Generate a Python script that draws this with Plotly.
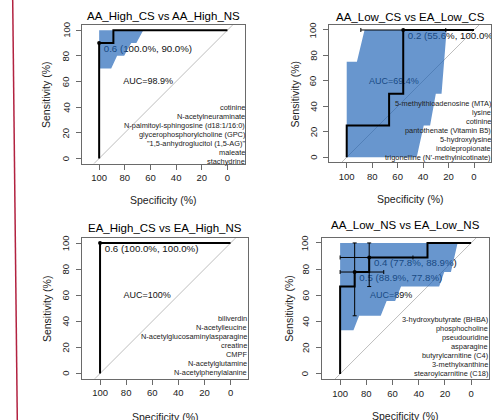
import plotly.graph_objects as go

FONT = "Liberation Sans, Arial, Helvetica, sans-serif"
W, H = 498, 420

# ---------------- data ----------------
titles = ["AA_High_CS vs AA_High_NS", "AA_Low_CS vs EA_Low_CS",
          "EA_High_CS vs EA_High_NS", "AA_Low_NS vs EA_Low_NS"]
x_ticks = [100, 80, 60, 40, 20, 0]
y_ticks = [0, 20, 40, 60, 80, 100]
x_title = "Specificity (%)"
y_title = "Sensitivity (%)"

# ROC step curves (specificity %, sensitivity %)
roc1_spec = [100, 100, 88.9, 88.9, 0]
roc1_sens = [0, 90, 90, 100, 100]
roc2_spec = [100, 100, 66.7, 66.7, 55.6, 55.6, 0]
roc2_sens = [0, 25, 25, 50, 50, 100, 100]
roc3_spec = [100, 100, 0]
roc3_sens = [0, 100, 100]
roc4_spec = [100, 100, 88.9, 88.9, 77.8, 77.8, 33.3, 33.3, 0]
roc4_sens = [0, 66.7, 66.7, 77.8, 77.8, 88.9, 88.9, 100, 100]

# Sensitivity confidence shape outlines
ci1_spec = [100, 65.6, 71, 75, 80.5, 86, 90.6, 100]
ci1_sens = [100, 100, 90, 90, 80, 80, 70, 70]
ci2_spec = [100, 100, 92, 86, 21.5, 25.5, 30, 34.5, 39.5, 45]
ci2_sens = [0, 75, 75, 100, 100, 50, 50, 25, 25, 0]
ci3_spec = []
ci3_sens = []
ci4_spec = [100, 10.3, 15.4, 20.5, 24.4, 53.5, 58, 64.5, 69, 85.5, 89.8, 100]
ci4_sens = [100, 100, 77.8, 77.8, 66.7, 66.7, 55.6, 55.6, 44.4, 44.4, 33.3, 33.3]

# Best thresholds
thr1_spec, thr1_sens, thr1_lab = [100], [90], ["0.6 (100.0%, 90.0%)"]
thr2_spec, thr2_sens, thr2_lab = [55.6], [100], ["0.2 (55.6%, 100.0%)"]
thr3_spec, thr3_sens, thr3_lab = [100], [100], ["0.6 (100.0%, 100.0%)"]
thr4_spec, thr4_sens = [77.8, 88.9], [88.9, 77.8]
thr4_lab = ["0.4 (77.8%, 88.9%)", "0.5 (88.9%, 77.8%)"]
# threshold confidence intervals
thr2_spec_lo, thr2_spec_hi = [22.2], [88.9]
thr4_spec_lo, thr4_spec_hi = [44.4, 66.7], [100, 100]
thr4_sens_lo, thr4_sens_hi = [66.7, 44.4], [100, 100]

auc_labels = ["AUC=98.9%", "AUC=69.4%", "AUC=100%", "AUC=89%"]

metabolites1 = ["cotinine", "N-acetylneuraminate", "N-palmitoyl-sphingosine (d18:1/16:0)",
                "glycerophosphorylcholine (GPC)", "\"1,5-anhydroglucitol (1,5-AG)\"",
                "maleate", "stachydrine"]
metabolites2 = ["5-methylthioadenosine (MTA)", "lysine", "cotinine",
                "pantothenate (Vitamin B5)", "5-hydroxylysine", "indolepropionate",
                "trigonelline (N\u2019-methylnicotinate)"]
metabolites3 = ["biliverdin", "N-acetylleucine", "N-acetylglucosaminylasparagine",
                "creatine", "CMPF", "N-acetylglutamine", "N-acetylphenylalanine"]
metabolites4 = ["3-hydroxybutyrate (BHBA)", "phosphocholine", "pseudouridine",
                "asparagine", "butyrylcarnitine (C4)", "3-methylxanthine",
                "stearoylcarnitine (C18)"]

# ---------------- layout geometry (pixels) ----------------
# (left, top, px per unit) of each panel box
geom = [(81.7, 25.0, 1.283), (329.4, 24.9, 1.273), (82.3, 237.8, 1.305), (322.3, 237.7, 1.31)]
XR = [113.6, -13.6]
YR = [-4, 104]
title_y = [16, 17, 228, 225]
xtitle_y = [200, 199, 416.5, 416]
ytitle_dx = [35, 34.5, 35.5, 33]
ytick_dx = [16, 16, 17, 17]
auc_pos = [(81.3, 59.5), (82.5, 59.4), (82.1, 59.4), (77.2, 59.5)]
leg_top_px = [107, 103.3, 318.3, 319.3]
leg_right_px = [245, 490.7, 246.7, 488.3]
leg_step_px = 9.0
thr_dx, thr_dy = -3.6, -4.8

FILL = "rgba(28,97,182,0.667)"
FRAME = "#6a6a6a"

panels = [
    dict(roc=(roc1_spec, roc1_sens), ci=(ci1_spec, ci1_sens),
         thr=(thr1_spec, thr1_sens, thr1_lab), err=None, labels=metabolites1),
    dict(roc=(roc2_spec, roc2_sens), ci=(ci2_spec, ci2_sens),
         thr=(thr2_spec, thr2_sens, thr2_lab),
         err=(thr2_spec_lo, thr2_spec_hi, None, None), labels=metabolites2),
    dict(roc=(roc3_spec, roc3_sens), ci=(ci3_spec, ci3_sens),
         thr=(thr3_spec, thr3_sens, thr3_lab), err=None, labels=metabolites3),
    dict(roc=(roc4_spec, roc4_sens), ci=(ci4_spec, ci4_sens),
         thr=(thr4_spec, thr4_sens, thr4_lab),
         err=(thr4_spec_lo, thr4_spec_hi, thr4_sens_lo, thr4_sens_hi), labels=metabolites4),
]

fig = go.Figure()
annotations = []
layout_axes = {}

for i, p in enumerate(panels):
    n = "" if i == 0 else str(i + 1)
    xa, ya = "x" + n, "y" + n
    L, T, s = geom[i]
    bw = (XR[0] - XR[1]) * s
    bh = (YR[1] - YR[0]) * s
    dom_x = [L / W, (L + bw) / W]
    dom_y = [1 - (T + bh) / H, 1 - T / H]

    # diagonal reference
    fig.add_trace(go.Scatter(x=[130, -30], y=[-30, 130], mode="lines",
                             line=dict(color="#bdbdbd", width=1), xaxis=xa, yaxis=ya,
                             hoverinfo="skip"))
    # AUC text (under the shape)
    fig.add_trace(go.Scatter(x=[auc_pos[i][0]], y=[auc_pos[i][1]], mode="text",
                             text=[auc_labels[i]], textposition="middle right",
                             textfont=dict(family=FONT, size=9, color="#111"),
                             xaxis=xa, yaxis=ya, hoverinfo="skip"))
    # threshold labels (under the shape)
    ts, tn, tl = p["thr"]
    fig.add_trace(go.Scatter(x=[v + thr_dx for v in ts], y=[v + thr_dy for v in tn],
                             mode="text", text=tl, textposition="middle right",
                             textfont=dict(family=FONT, size=9.7, color="#111"),
                             xaxis=xa, yaxis=ya, hoverinfo="skip"))
    # CI shape
    cs, cn = p["ci"]
    if cs:
        fig.add_trace(go.Scatter(x=cs + [cs[0]], y=cn + [cn[0]], mode="lines",
                                 fill="toself", fillcolor=FILL,
                                 line=dict(width=0, color="rgba(0,0,0,0)"),
                                 xaxis=xa, yaxis=ya, hoverinfo="skip"))
    # ROC curve
    rs, rn = p["roc"]
    fig.add_trace(go.Scatter(x=rs, y=rn, mode="lines",
                             line=dict(color="black", width=2, shape="linear"),
                             xaxis=xa, yaxis=ya, hoverinfo="skip"))
    # threshold points with CI bars
    kw = {}
    if p["err"] is not None:
        slo, shi, nlo, nhi = p["err"]
        kw["error_x"] = dict(type="data", symmetric=False,
                             array=[h - v for h, v in zip(shi, ts)],
                             arrayminus=[v - l for l, v in zip(slo, ts)],
                             color="black", thickness=1, width=2)
        if nlo is not None:
            kw["error_y"] = dict(type="data", symmetric=False,
                                 array=[h - v for h, v in zip(nhi, tn)],
                                 arrayminus=[v - l for l, v in zip(nlo, tn)],
                                 color="black", thickness=1, width=2)
    fig.add_trace(go.Scatter(x=ts, y=tn, mode="markers",
                             marker=dict(color="black", size=4),
                             xaxis=xa, yaxis=ya, hoverinfo="skip", **kw))

    axcommon = dict(showgrid=False, zeroline=False, showline=True, mirror=True,
                    automargin=False, fixedrange=True,
                    linecolor=FRAME, linewidth=1, ticks="outside", ticklen=5,
                    tickcolor=FRAME, tickwidth=1,
                    tickfont=dict(family=FONT, size=9.5, color="#222"))
    layout_axes["xaxis" + n] = dict(axcommon, domain=dom_x, range=XR, tickmode="array",
                                    tickvals=x_ticks, ticktext=[str(t) for t in x_ticks],
                                    anchor=ya)
    layout_axes["yaxis" + n] = dict(axcommon, domain=dom_y, range=YR, tickmode="array",
                                    tickvals=y_ticks, showticklabels=False, anchor=xa)
    # rotated y tick labels (R style, reading upwards)
    for t in y_ticks:
        annotations.append(dict(text=str(t), x=(L - ytick_dx[i]) / W, y=t,
                                xref="paper", yref=ya, showarrow=False, textangle=-90,
                                xanchor="center", yanchor="middle",
                                font=dict(family=FONT, size=9.5, color="#222")))

    cx = (L + bw / 2) / W
    annotations.append(dict(text=titles[i], x=cx, y=1 - title_y[i] / H, xref="paper",
                            yref="paper", showarrow=False, xanchor="center", yanchor="middle",
                            font=dict(family=FONT, size=11.5, color="black")))
    annotations.append(dict(text=x_title, x=cx, y=1 - xtitle_y[i] / H, xref="paper",
                            yref="paper", showarrow=False, xanchor="center", yanchor="middle",
                            font=dict(family=FONT, size=10.5, color="#222")))
    annotations.append(dict(text=y_title, x=(L - ytitle_dx[i]) / W, y=1 - (T + bh / 2) / H,
                            xref="paper", yref="paper", showarrow=False, textangle=-90,
                            xanchor="center", yanchor="middle",
                            font=dict(family=FONT, size=10.5, color="#222")))
    for k, lab in enumerate(p["labels"]):
        annotations.append(dict(text=lab, x=(leg_right_px[i] + 2) / W,
                                y=1 - (leg_top_px[i] + k * leg_step_px) / H,
                                xref="paper", yref="paper", showarrow=False, xanchor="right",
                                yanchor="middle",
                                font=dict(family=FONT, size=7.4, color="#222")))

fig.update_layout(
    width=W, height=H, autosize=False,
    margin=dict(l=0, r=0, t=0, b=0),
    paper_bgcolor="white", plot_bgcolor="white",
    showlegend=False, hovermode=False,
    annotations=annotations,
    shapes=[dict(type="line", xref="paper", yref="paper", x0=12.7 / W, y0=1,
                 x1=17.3 / W, y1=0, line=dict(color="rgb(178,34,64)", width=1.5))],
    **layout_axes,
)

fig.write_html("out.html", config={"displayModeBar": False},
               post_script="document.body.style.margin='0';document.body.style.padding='0';"
                           "document.body.style.overflow='hidden';")
